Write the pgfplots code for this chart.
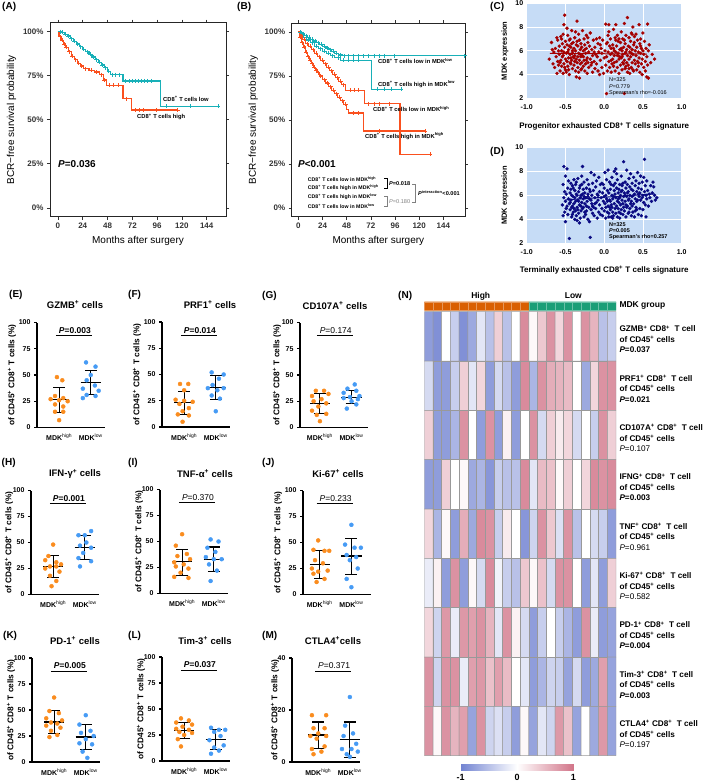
\documentclass[border=0pt]{standalone}
\usepackage{fontspec}
\setmainfont{Liberation Sans}
\usepackage{pgfplots}
\pgfplotsset{compat=1.18}
\newcommand\fs[2]{\fontsize{#1}{#2}\selectfont}
\definecolor{kmteal}{RGB}{24,176,184}
\definecolor{kmred}{RGB}{250,80,30}
\definecolor{bgblue}{RGB}{198,220,246}
\definecolor{cred}{RGB}{165,0,0}
\definecolor{dnavy}{RGB}{10,10,130}
\definecolor{dotor}{RGB}{250,140,30}
\definecolor{dotbl}{RGB}{70,155,245}
\definecolor{annor}{RGB}{217,95,2}
\definecolor{annte}{RGB}{27,158,119}
\pgfplotsset{
 /pgf/number format/assume math mode=true,
 km/.style={anchor=south west, scale only axis, ymin=-5, ymax=105,
   ytick={0,25,50,75,100}, yticklabels={0\%,25\%,50\%,75\%,100\%},
   xtick={0,24,48,72,96,120,144}, tick align=outside, major tick length=3pt,
   axis line style={black!85, line width=0.9pt}, tick style={black!80, line width=0.7pt},
   tick label style={font=\fs{8}{9}\bfseries, text=black!80},
   xlabel={Months after surgery}, ylabel={BCR−free survival probability},
   label style={font=\fs{10}{11}}},
 sc/.style={anchor=south west, scale only axis, width=155pt, xmin=-1, xmax=1, ymin=2, ymax=10,
   xtick={-1,-0.5,0,0.5,1}, xticklabels={-1.0,-0.5,0.0,0.5,1.0}, ytick={2,4,6,8,10},
   grid=major, grid style={white, line width=0.9pt}, axis background/.style={fill=bgblue},
   axis line style={draw=none}, major tick length=0pt,
   tick label style={font=\fs{7}{8}\bfseries}, xticklabel style={yshift=-3pt},
   ylabel={MDK expression}, label style={font=\fs{7.5}{8}\bfseries},
   xlabel style={yshift=-6pt, font=\fs{8}{9}\bfseries}, clip=false},
 dp/.style={anchor=south west, scale only axis, width=68pt, xmin=0.3, xmax=2.45, ymin=0, ymax=100,
   axis x line=bottom, axis y line=left, axis line style={-, line width=1.1pt},
   ytick={0,25,50,75,100}, xtick={1,2},
   xticklabels={MDK\textsuperscript{\mdseries high}, MDK\textsuperscript{\mdseries low}},
   tick align=outside, major tick length=3pt, xtick style={draw=none},
   ytick style={line width=1.1pt, black},
   tick label style={font=\fs{7}{8}\bfseries},
   ylabel={of CD45\textsuperscript{+} CD8\textsuperscript{+} T cells (\%)},
   ylabel style={font=\fs{8.3}{9}\bfseries}, clip=false},
 yl/.style={ylabel style={at={(axis description cs:-#1/68,0.5)}, anchor=center}},
 msd/.style={black, line width=1.1pt, no markers},
 dor/.style={only marks, mark=*, mark size=2pt, color=dotor},
 dbl/.style={only marks, mark=*, mark size=2pt, color=dotbl},
 cens/.style={only marks, mark=+, mark size=2pt, line width=0.7pt},
 hmmap/.style={colormap={hm}{rgb255=(115,132,210) rgb255=(255,255,255) rgb255=(210,118,138)}, point meta min=-1, point meta max=1},
}
\newcommand\msdA[3]{\addplot[msd] coordinates {(0.68,#1) (1.32,#1)};\addplot[msd] coordinates {(1,#2) (1,#3)};\addplot[msd] coordinates {(0.81,#2) (1.19,#2)};\addplot[msd] coordinates {(0.81,#3) (1.19,#3)};}
\newcommand\msdB[3]{\addplot[msd] coordinates {(1.68,#1) (2.32,#1)};\addplot[msd] coordinates {(2,#2) (2,#3)};\addplot[msd] coordinates {(1.81,#2) (2.19,#2)};\addplot[msd] coordinates {(1.81,#3) (2.19,#3)};}
\newcommand\pv[3]{\node[font=\fs{8.5}{9}#3, anchor=base] at (axis cs:1.5,#2) {\textit{P}=#1};}
\newcommand\pl[1]{\draw[line width=0.8pt] (axis cs:0.9,#1) -- (axis cs:2.05,#1);}
\begin{document}
\begin{tikzpicture}
\path[use as bounding box] (0,0) rectangle (709pt,-784pt);

% ---------- A ----------
\begin{axis}[km, at={(50pt,-216.7pt)}, width=176pt, height=194pt, xmin=-7.7, xmax=162.7]
\addplot[const plot, kmteal, line width=1.2pt] coordinates {(0,100) (3,99.5) (6,98.5) (9,97.5) (12,96) (15,94.5) (18,93) (21,91.5) (24,90) (27,88.5) (30,87) (33,85.5) (36,84) (39,82.5) (42,81) (45,79.5) (48,77.5) (51,75.5) (63,72) (99,57.5) (155,57.5)};
\addplot[cens, kmteal] coordinates {(2,100) (4,99.5) (7,98.5) (10,97.5) (13,96) (16,94.5) (19,93) (22,91.5) (25,90) (28,88.5) (31,87) (34,85.5) (37,84) (40,82.5) (43,81) (46,79.5) (49,77.5) (53,75.5) (56,75.5) (59,75.5) (65,72) (69,72) (72,72) (75,72) (78,72) (81,72) (84,72) (87,72) (90,72) (105,57.5) (128,57.5) (155,57.5)};
\addplot[const plot, kmred, line width=1.2pt] coordinates {(0,100) (1,97) (3,95) (5,93) (7,91) (10,88.5) (13,86) (16,84) (19,82) (22,80.5) (25,79) (30,78) (35,77) (40,75.5) (44,72.5) (47,69.5) (63,62) (71,55.5) (116,55.5)};
\addplot[cens, kmred] coordinates {(2,97) (4,95) (6,93) (8,91) (11,88.5) (14,86) (17,84) (20,82) (23,80.5) (27,79) (32,78) (37,77) (42,75.5) (45,72.5) (50,69.5) (54,69.5) (58,69.5) (66,62) (75,55.5) (79,55.5) (83,55.5) (95,55.5) (116,55.5)};
\end{axis}

% ---------- B ----------
\begin{axis}[km, at={(291.7pt,-216.7pt)}, width=173.3pt, height=193.4pt, xmin=-6.6, xmax=165.5]
\addplot[const plot, kmteal, line width=1.2pt] coordinates {(0,100) (3,99) (6,98) (9,97) (12,96) (15,95) (18,94) (21,93) (24,92) (27,91) (30,90) (33,89) (36,88) (40,87) (44,86.5) (165,86.5)};
\addplot[cens, kmteal] coordinates {(2,100) (5,99) (8,98) (11,97) (14,96) (17,95) (20,94) (23,93) (26,92) (29,91) (32,90) (35,89) (38,88) (42,87) (46,86.5) (50,86.5) (55,86.5) (60,86.5) (65,86.5) (70,86.5) (75,86.5) (80,86.5) (85,86.5) (95,86.5) (165,86.5)};
\addplot[const plot, kmteal, line width=1.2pt] coordinates {(0,100) (2,99) (5,97) (8,95.5) (12,94) (16,92) (20,90.5) (24,89) (28,88) (32,86.5) (36,85.5) (42,84) (73,67.5) (102,67.5)};
\addplot[cens, kmteal] coordinates {(4,99) (10,95.5) (14,94) (18,92) (22,90.5) (26,89) (30,88) (34,86.5) (40,85.5) (45,84) (50,84) (55,84) (60,84) (78,67.5) (85,67.5) (92,67.5) (102,67.5)};
\addplot[const plot, kmred, line width=1.2pt] coordinates {(0,100) (2,98) (4,96) (7,93.5) (10,92) (13,90) (16,88) (19,86) (22,84) (25,82) (28,80) (31,78) (34,76) (37,74) (40,72) (43,70) (47,67) (66,59.3) (101,30.5) (131,30.5)};
\addplot[cens, kmred] coordinates {(3,98) (6,96) (9,93.5) (12,92) (15,90) (18,88) (21,86) (24,84) (27,82) (30,80) (33,78) (36,76) (39,74) (42,72) (45,70) (52,67) (56,67) (60,67) (70,59.3) (75,59.3) (80,59.3) (90,59.3) (131,30.5)};
\addplot[const plot, kmred, line width=1.2pt] coordinates {(0,100) (1,97) (3,94) (5,91.5) (7,88.5) (9,86) (11,84) (13,82) (15,80) (17,78.5) (19,77) (21,75) (24,73) (27,71) (30,69) (33,67) (36,65) (39,63) (42,61) (45,59) (48,56) (50,54) (65,43.8) (126,43.8)};
\addplot[cens, kmred] coordinates {(2,97) (4,94) (6,91.5) (8,88.5) (10,86) (12,84) (14,82) (16,80) (18,78.5) (20,77) (22,75) (26,73) (29,71) (32,69) (35,67) (38,65) (41,63) (44,61) (47,59) (55,54) (60,54) (80,43.8) (126,43.8)};
\end{axis}

% ---------- C ----------
\begin{axis}[sc, at={(526.7pt,-98.3pt)}, height=95pt, xlabel={Progenitor exhausted CD8\textsuperscript{+} T cells signature}]
\addplot[only marks, mark=*, mark size=1.5pt, cred] coordinates {
(-0.71,5.3) (-0.68,6.7) (-0.66,4.9) (-0.65,5.9) (-0.64,4.6) (-0.63,6.2) (-0.62,5.5) (-0.61,4.1) (-0.6,6.9) (-0.6,5.1) (-0.61,7.1) (-0.67,6.1)
(-0.59,4.8) (-0.58,6.4) (-0.58,5.7) (-0.57,4.3) (-0.56,7.2) (-0.56,5.2) (-0.55,6.0) (-0.55,4.7) (-0.54,6.6) (-0.54,5.5) (-0.53,4.1) (-0.53,7.4) (-0.52,5.9) (-0.52,4.9) (-0.51,6.3) (-0.51,9.0) (-0.5,5.3) (-0.5,4.4) (-0.5,6.8) (-0.52,8.2) (-0.57,5.0) (-0.59,6.0) (-0.55,7.0) (-0.53,5.6) (-0.51,4.6)
(-0.49,5.8) (-0.49,4.2) (-0.48,6.5) (-0.48,5.1) (-0.47,7.3) (-0.47,4.7) (-0.46,6.1) (-0.46,5.4) (-0.45,4.0) (-0.45,6.9) (-0.44,5.7) (-0.44,7.0) (-0.43,4.9) (-0.43,6.3) (-0.42,5.2) (-0.42,7.7) (-0.41,4.5) (-0.41,6.0) (-0.4,5.5) (-0.4,6.7) (-0.48,7.9) (-0.46,4.4) (-0.44,5.0) (-0.42,6.6) (-0.41,5.8) (-0.47,5.9) (-0.45,6.4) (-0.43,5.4)
(-0.39,4.8) (-0.39,6.2) (-0.38,5.6) (-0.38,7.1) (-0.37,4.3) (-0.37,6.0) (-0.36,5.3) (-0.36,3.8) (-0.35,6.8) (-0.35,8.5) (-0.35,5.0) (-0.34,6.4) (-0.34,4.6) (-0.33,5.8) (-0.33,7.4) (-0.32,5.2) (-0.32,3.7) (-0.31,6.1) (-0.31,4.9) (-0.3,5.5) (-0.3,6.6) (-0.3,4.4) (-0.38,5.1) (-0.36,6.5) (-0.34,5.5) (-0.32,6.9) (-0.31,5.7) (-0.33,4.2) (-0.37,7.6) (-0.39,5.4)
(-0.29,5.0) (-0.29,6.3) (-0.28,7.7) (-0.28,5.6) (-0.27,4.7) (-0.27,6.0) (-0.26,5.2) (-0.26,7.0) (-0.25,4.3) (-0.25,6.5) (-0.24,5.8) (-0.24,4.9) (-0.23,6.2) (-0.23,7.3) (-0.22,5.4) (-0.22,4.1) (-0.21,6.7) (-0.21,5.0) (-0.2,5.9) (-0.2,4.6) (-0.27,5.5) (-0.25,6.1) (-0.23,5.2) (-0.21,7.1) (-0.29,4.5)
(-0.19,6.4) (-0.18,5.3) (-0.18,7.5) (-0.17,4.8) (-0.16,6.1) (-0.15,5.6) (-0.15,4.2) (-0.14,6.9) (-0.13,5.1) (-0.12,6.3) (-0.12,4.5) (-0.11,5.7) (-0.1,7.0) (-0.1,4.9) (-0.16,5.0) (-0.13,5.9)
(-0.09,5.5) (-0.08,6.6) (-0.08,4.3) (-0.07,5.9) (-0.06,4.0) (-0.06,7.1) (-0.05,5.2) (-0.04,6.2) (-0.03,4.6) (-0.03,5.8) (-0.02,6.9) (-0.01,4.1) (0.0,5.4) (-0.05,6.5)
(0.01,6.0) (0.02,4.8) (0.02,8.25) (0.03,2.4) (0.03,5.5) (0.04,6.7) (0.04,4.3) (0.05,7.3) (0.05,5.9) (0.06,5.1) (0.06,8.2) (0.07,6.4) (0.07,4.6) (0.08,5.7) (0.08,7.0) (0.09,5.2) (0.09,6.2) (0.1,4.9) (0.1,5.8) (0.03,6.6) (0.06,7.6) (0.09,4.2)
(0.11,6.5) (0.11,5.3) (0.12,7.8) (0.12,4.7) (0.13,6.0) (0.13,5.6) (0.14,4.3) (0.14,7.1) (0.15,5.9) (0.15,8.2) (0.16,5.1) (0.16,6.4) (0.17,4.6) (0.17,7.3) (0.18,5.8) (0.18,6.8) (0.19,5.3) (0.19,4.1) (0.2,6.1) (0.2,5.5) (0.13,5.0) (0.15,6.9) (0.17,5.6) (0.19,7.0) (0.12,6.2)
(0.21,4.8) (0.21,6.7) (0.22,5.4) (0.22,7.6) (0.23,4.4) (0.23,6.0) (0.24,5.7) (0.24,7.0) (0.25,4.9) (0.25,6.3) (0.26,5.2) (0.26,8.3) (0.27,6.6) (0.27,4.5) (0.28,5.9) (0.28,7.3) (0.29,5.0) (0.29,6.1) (0.3,8.8) (0.3,5.6) (0.3,4.2) (0.26,2.4) (0.22,6.2) (0.24,5.0) (0.26,6.9) (0.28,4.7) (0.23,5.5) (0.27,5.8)
(0.31,6.4) (0.31,4.8) (0.32,7.1) (0.32,5.3) (0.33,5.9) (0.33,4.1) (0.34,6.8) (0.34,5.5) (0.35,7.5) (0.35,4.6) (0.36,6.1) (0.36,5.0) (0.37,8.0) (0.37,5.7) (0.38,4.3) (0.38,6.5) (0.39,5.2) (0.39,7.2) (0.4,4.9) (0.4,6.0) (0.33,6.3) (0.35,5.8) (0.37,4.4) (0.39,6.7) (0.32,4.5) (0.36,7.4)
(0.41,5.6) (0.41,7.4) (0.42,4.4) (0.42,6.3) (0.43,5.1) (0.43,6.9) (0.44,4.7) (0.44,5.9) (0.45,8.2) (0.45,5.4) (0.46,6.6) (0.46,4.2) (0.47,5.8) (0.47,7.0) (0.48,4.9) (0.48,6.2) (0.49,5.3) (0.49,4.0) (0.5,6.0) (0.5,7.5) (0.44,5.0) (0.47,6.4)
(0.51,4.6) (0.51,5.7) (0.52,6.8) (0.53,5.1) (0.53,4.3) (0.54,6.2) (0.55,3.8) (0.55,5.5) (0.56,8.25) (0.56,4.8) (0.57,3.7) (0.58,6.5) (0.6,5.0) (0.62,5.7) (0.65,5.3) (0.57,6.0)};
\addplot[cred, line width=1pt] coordinates {(-0.7,5.78) (0.55,5.73)};
\end{axis}

% ---------- D ----------
\begin{axis}[sc, at={(526.7pt,-243.3pt)}, height=96pt, xlabel={Terminally exhausted CD8\textsuperscript{+} T cells signature}, xlabel style={yshift=2pt}]
\addplot[only marks, mark=*, mark size=1.5pt, dnavy] coordinates {
(-0.54,5.2) (-0.53,6.9) (-0.53,4.3) (-0.52,8.4) (-0.52,5.8) (-0.51,4.6) (-0.51,6.3) (-0.5,3.8) (-0.5,5.5) (-0.5,7.6) (-0.49,4.9) (-0.49,6.1) (-0.48,8.2) (-0.48,5.1) (-0.47,6.6) (-0.47,4.4) (-0.46,5.7) (-0.46,7.2) (-0.45,2.4) (-0.45,5.3)
(-0.44,6.2) (-0.44,4.8) (-0.43,5.6) (-0.43,7.0) (-0.42,4.2) (-0.42,6.0) (-0.41,5.1) (-0.41,6.8) (-0.4,4.6) (-0.4,5.9) (-0.39,7.3) (-0.39,5.3) (-0.38,4.0) (-0.38,6.4) (-0.37,5.5) (-0.37,4.7) (-0.36,6.1) (-0.36,7.1) (-0.35,5.0) (-0.35,3.9) (-0.44,5.4) (-0.42,5.0) (-0.4,6.6) (-0.38,5.8) (-0.36,4.3) (-0.41,4.4) (-0.43,6.5) (-0.39,4.9) (-0.37,6.9) (-0.35,6.0)
(-0.34,5.6) (-0.34,7.4) (-0.33,4.5) (-0.33,6.3) (-0.32,5.2) (-0.32,3.7) (-0.31,6.8) (-0.31,5.8) (-0.3,4.7) (-0.3,6.0) (-0.29,7.6) (-0.29,5.4) (-0.28,8.4) (-0.28,4.9) (-0.27,6.5) (-0.27,5.7) (-0.26,4.2) (-0.26,7.1) (-0.25,5.3) (-0.25,6.2) (-0.33,5.5) (-0.31,4.1) (-0.29,6.9) (-0.27,5.0) (-0.25,4.6) (-0.32,6.6) (-0.3,5.1) (-0.28,6.1) (-0.26,5.9) (-0.34,4.8)
(-0.24,5.8) (-0.24,4.4) (-0.23,6.6) (-0.23,5.1) (-0.22,7.3) (-0.22,5.5) (-0.21,4.0) (-0.21,6.1) (-0.2,5.0) (-0.2,6.9) (-0.19,3.8) (-0.19,5.7) (-0.18,2.5) (-0.18,6.3) (-0.17,4.8) (-0.17,7.9) (-0.16,5.3) (-0.16,6.0) (-0.15,4.5) (-0.15,7.0) (-0.23,4.7) (-0.21,5.9) (-0.19,6.5) (-0.17,5.6) (-0.15,5.1)
(-0.14,6.4) (-0.14,5.0) (-0.13,7.7) (-0.13,4.3) (-0.12,5.8) (-0.11,6.7) (-0.11,4.9) (-0.1,5.4) (-0.1,7.2) (-0.09,4.1) (-0.09,6.1) (-0.08,5.6) (-0.07,7.5) (-0.07,4.6) (-0.06,6.3) (-0.06,5.2) (-0.05,6.9) (-0.05,4.4) (-0.12,5.3) (-0.08,6.0)
(-0.04,5.8) (-0.03,4.9) (-0.03,7.0) (-0.02,6.2) (-0.02,4.3) (-0.01,5.5) (0.0,6.6) (0.0,4.7) (0.01,7.9) (0.01,5.3) (0.02,6.0) (0.02,4.1) (0.03,5.7) (0.03,7.3) (0.04,4.6) (0.04,6.4) (0.05,5.1) (0.05,8.1) (-0.01,6.9) (0.0,5.9) (0.02,5.0) (0.04,5.5)
(0.06,6.2) (0.06,4.2) (0.07,5.6) (0.07,7.1) (0.08,4.8) (0.08,6.5) (0.09,5.2) (0.09,4.2) (0.1,6.0) (0.1,7.5) (0.11,4.6) (0.11,5.7) (0.12,6.8) (0.12,4.3) (0.13,5.3) (0.13,8.0) (0.14,6.1) (0.14,4.9) (0.15,5.8) (0.15,8.2) (0.07,5.0) (0.09,6.9) (0.11,4.1) (0.13,6.4) (0.15,4.5) (0.08,5.5) (0.1,5.0) (0.12,5.9) (0.14,7.0) (0.06,4.5)
(0.16,6.6) (0.16,5.1) (0.17,4.2) (0.17,7.3) (0.18,5.7) (0.18,6.2) (0.19,4.6) (0.19,5.4) (0.2,6.9) (0.2,4.1) (0.21,6.0) (0.21,5.2) (0.22,7.6) (0.22,4.8) (0.23,6.4) (0.23,5.6) (0.24,4.4) (0.24,7.0) (0.25,8.8) (0.25,5.9) (0.17,5.5) (0.19,6.5) (0.21,4.5) (0.23,6.8) (0.25,5.0) (0.18,4.9) (0.2,5.8) (0.22,6.3) (0.24,5.3) (0.16,7.8)
(0.26,6.2) (0.26,4.7) (0.27,7.1) (0.27,5.5) (0.28,4.2) (0.28,6.6) (0.29,5.9) (0.29,8.1) (0.3,5.1) (0.3,6.9) (0.31,4.5) (0.31,6.3) (0.32,5.7) (0.32,7.4) (0.33,4.9) (0.33,6.0) (0.34,5.3) (0.34,7.8) (0.35,6.5) (0.35,4.3) (0.27,6.0) (0.29,5.0) (0.31,5.6) (0.33,6.7) (0.35,5.5) (0.28,5.2) (0.3,6.2) (0.32,4.6)
(0.36,5.9) (0.36,7.0) (0.37,4.6) (0.37,6.4) (0.38,5.3) (0.38,7.5) (0.39,4.2) (0.39,6.1) (0.4,5.7) (0.4,6.8) (0.41,5.0) (0.41,7.2) (0.42,6.3) (0.42,4.8) (0.43,5.6) (0.43,7.9) (0.44,6.6) (0.44,4.4) (0.45,5.9) (0.45,7.0) (0.38,6.0) (0.4,4.7) (0.42,5.5) (0.44,6.1) (0.36,5.1)
(0.46,6.2) (0.46,4.9) (0.47,7.6) (0.47,5.6) (0.48,6.5) (0.48,4.3) (0.49,5.8) (0.49,7.1) (0.5,6.0) (0.5,4.8) (0.51,5.4) (0.51,7.5) (0.52,9.0) (0.52,6.3) (0.53,5.2) (0.53,6.8) (0.54,4.2) (0.54,6.0) (0.55,5.7) (0.55,7.2)
(0.56,6.4) (0.57,5.1) (0.58,6.1) (0.59,5.8) (0.6,6.8) (0.61,5.5) (0.62,6.2) (0.64,6.7) (0.65,6.0) (0.66,5.6) (0.68,5.8) (0.63,7.1)};
\addplot[dnavy, line width=1pt] coordinates {(-0.5,5.62) (0.65,6.12)};
\end{axis}

% ---------- E ----------
\begin{axis}[dp, yl=25, at={(37pt,-427.5pt)}, height=105pt]
\addplot[dor] coordinates {(0.93,48) (1.1,45) (0.87,30) (1.13,28) (0.73,27) (1.0,26) (1.27,25) (0.87,22) (1.13,20) (0.87,15) (1.13,15) (1.0,7)};
\addplot[dbl] coordinates {(1.85,62) (2.15,58) (2.0,50) (1.87,45) (2.13,40) (1.75,37) (2.25,35) (1.87,31) (2.15,30) (1.75,28)};
\msdA{26.3}{14.7}{37.8}\msdB{42.7}{31.5}{54.5}
\pv{0.003}{89.5}{\bfseries}\pl{87.5}
\end{axis}
% ---------- F ----------
\begin{axis}[dp, yl=25, at={(162pt,-427pt)}, height=105pt]
\addplot[dor] coordinates {(0.87,41) (1.13,41) (1.0,35) (0.73,26) (1.0,25) (1.27,24) (0.85,22) (1.15,18) (0.95,15) (0.8,12) (1.15,11) (0.95,5)};
\addplot[dbl] coordinates {(1.87,52) (2.25,50) (2.1,46) (1.9,40) (1.75,37) (2.25,37) (2.05,35) (1.87,30) (2.13,27) (2.0,15)};
\msdA{23}{12}{34}\msdB{37.3}{26}{49}
\pv{0.014}{89.5}{\bfseries}\pl{87.5}
\end{axis}
% ---------- G ----------
\begin{axis}[dp, yl=23, at={(300pt,-427.5pt)}, height=105pt, xmin=0.37, xmax=2.52]
\addplot[dor] coordinates {(0.87,35) (1.13,35) (1.27,32) (0.75,30) (1.05,27) (0.8,25) (1.2,23) (0.95,20) (0.75,16) (1.2,13) (0.9,12) (1.0,6)};
\addplot[dbl] coordinates {(2.1,41) (1.87,37) (2.15,35) (1.75,33) (2.25,30) (1.95,29) (1.75,28) (2.2,27) (2.0,25) (2.15,22) (1.85,18)};
\msdA{22.7}{13}{32.6}\msdB{29}{23}{35}
\pv{0.174}{89.5}{\mdseries}\pl{87.5}
\end{axis}
% ---------- H ----------
\begin{axis}[dp, yl=22, at={(31pt,-594.5pt)}, height=104pt]
\addplot[dor] coordinates {(1.0,48) (0.85,37) (0.75,33) (1.1,31) (1.25,29) (0.9,27) (1.1,27) (0.75,25) (1.2,22) (0.9,18) (1.1,13) (0.95,8)};
\addplot[dbl] coordinates {(2.2,61) (1.8,57) (2.0,57) (2.05,50) (1.85,47) (2.2,45) (1.95,40) (1.8,35) (2.2,32) (1.85,27)};
\msdA{27}{16.5}{37.5}\msdB{45}{34}{56.5}
\pv{0.001}{89.5}{\bfseries}\pl{87.5}
\end{axis}
% ---------- I ----------
\begin{axis}[dp, yl=21, at={(160pt,-593.5pt)}, height=104pt]
\addplot[dor] coordinates {(1.0,57) (0.8,46) (1.15,38) (0.85,36) (1.25,33) (0.75,30) (1.05,28) (0.8,26) (1.2,24) (0.95,20) (0.75,16) (1.2,15)};
\addplot[dbl] coordinates {(1.9,52) (2.15,50) (1.8,44) (2.05,40) (1.75,35) (2.0,33) (2.25,33) (1.85,28) (2.1,22) (1.9,12)};
\msdA{30.4}{17.6}{42.5}\msdB{33}{21.4}{44.7}
\pv{0.370}{89.5}{\mdseries}\pl{87.5}
\end{axis}
% ---------- J ----------
\begin{axis}[dp, yl=25, at={(303pt,-594.5pt)}, height=104pt, xmin=0.47, xmax=2.62]
\addplot[dor] coordinates {(0.95,52) (0.8,43) (1.15,42) (1.3,42) (0.85,33) (1.1,30) (0.75,25) (1.25,23) (0.95,22) (0.8,20) (1.15,15) (0.9,12)};
\addplot[dbl] coordinates {(2.0,67) (1.8,48) (2.1,45) (2.3,45) (1.85,38) (2.15,36) (1.95,33) (2.2,25) (1.85,15) (2.0,7)};
\msdA{29}{15.4}{42}\msdB{37}{19}{54}
\pv{0.233}{89.5}{\mdseries}\pl{87.5}
\end{axis}
% ---------- K ----------
\begin{axis}[dp, yl=21, at={(32pt,-762pt)}, height=104pt]
\addplot[dor] coordinates {(1.0,62) (0.85,49) (1.15,47) (0.75,42) (1.25,40) (0.9,38) (1.1,37) (0.75,35) (1.2,33) (0.9,30) (1.1,26) (0.85,24)};
\addplot[dbl] coordinates {(2.0,45) (1.8,36) (2.15,30) (1.85,28) (2.25,25) (2.0,22) (1.8,18) (2.2,17) (1.9,10) (2.05,4)};
\msdA{38.5}{27.7}{49.5}\msdB{24}{12}{36}
\pv{0.005}{89.5}{\bfseries}\pl{87.5}
\end{axis}
% ---------- L ----------
\begin{axis}[dp, yl=21, at={(162pt,-761pt)}, height=104pt]
\addplot[dor] coordinates {(0.9,41) (1.15,39) (0.75,37) (1.25,35) (0.95,33) (0.75,31) (1.15,30) (0.85,28) (1.25,27) (1.0,25) (0.8,21) (0.9,14)};
\addplot[dbl] coordinates {(1.85,32) (2.1,30) (2.3,30) (1.95,28) (2.15,24) (1.8,20) (2.25,15) (1.95,13) (2.1,10) (1.85,7)};
\msdA{29.6}{22}{37}\msdB{21}{11.5}{30}
\pv{0.037}{89.5}{\bfseries}\pl{87.5}
\end{axis}
% ---------- M ----------
\begin{axis}[dp, yl=17, at={(292pt,-762pt)}, height=104pt, ymax=40, ytick={0,20,40}, xmin=0.17, xmax=2.32]
\addplot[dor] coordinates {(0.8,18) (1.25,18) (0.85,13) (1.2,13) (1.0,11) (0.75,10) (1.25,10) (0.95,9) (1.2,6) (0.8,5) (1.1,4) (0.85,3)};
\addplot[dbl] coordinates {(2.0,25) (1.85,14) (2.1,11) (1.8,10) (2.2,7) (1.75,5) (2.05,5) (2.25,4) (1.9,3) (2.0,2)};
\msdA{10.4}{5.2}{15.4}\msdB{8.6}{1.9}{15.4}
\pv{0.371}{35.8}{\mdseries}\pl{35}
\end{axis}

% ---------- N heatmap ----------
\begin{axis}[hmmap, at={(424.3pt,-755.7pt)}, anchor=south west, scale only axis, width=191.7pt, height=444pt,
  xmin=0.5, xmax=22.5, ymin=0.5, ymax=9.5, y dir=reverse, hide axis]
\addplot[matrix plot*, mesh/cols=22, point meta=explicit, draw=black!40, line width=0.5pt] coordinates {
(1,1) [-0.8] (2,1) [-0.9] (3,1) [0] (4,1) [-0.4] (5,1) [-0.9] (6,1) [-0.7] (7,1) [-0.2] (8,1) [-0.5] (9,1) [0.35] (10,1) [-0.5] (11,1) [0] (12,1) [0.85] (13,1) [0.05] (14,1) [0.4] (15,1) [0.8] (16,1) [0.3] (17,1) [0.8] (18,1) [0] (19,1) [0.8] (20,1) [0.55] (21,1) [-0.5] (22,1) [-0.4]
(1,2) [-0.3] (2,2) [-0.8] (3,2) [-0.8] (4,2) [-0.4] (5,2) [0.35] (6,2) [-0.2] (7,2) [0.3] (8,2) [-0.8] (9,2) [-0.3] (10,2) [-0.5] (11,2) [-0.8] (12,2) [0.85] (13,2) [-0.6] (14,2) [0.8] (15,2) [0.6] (16,2) [0.55] (17,2) [0.5] (18,2) [0] (19,2) [-0.7] (20,2) [0.3] (21,2) [0.8] (22,2) [0.8]
(1,3) [0.35] (2,3) [-0.8] (3,3) [-0.8] (4,3) [-0.6] (5,3) [0.8] (6,3) [0] (7,3) [-0.8] (8,3) [0.8] (9,3) [-0.8] (10,3) [0.1] (11,3) [-0.8] (12,3) [0] (13,3) [0.8] (14,3) [-0.3] (15,3) [0.35] (16,3) [0.15] (17,3) [0.3] (18,3) [-0.3] (19,3) [0] (20,3) [-0.4] (21,3) [0.8] (22,3) [0.35]
(1,4) [-0.8] (2,4) [-0.8] (3,4) [0.35] (4,4) [0] (5,4) [0.05] (6,4) [-0.7] (7,4) [-0.6] (8,4) [-0.85] (9,4) [-0.4] (10,4) [-0.5] (11,4) [-0.5] (12,4) [0.85] (13,4) [-0.2] (14,4) [0.5] (15,4) [0.45] (16,4) [0.05] (17,4) [0.35] (18,4) [0] (19,4) [0.3] (20,4) [0.85] (21,4) [0.8] (22,4) [0.85]
(1,5) [0.3] (2,5) [-0.6] (3,5) [0.05] (4,5) [-0.8] (5,5) [0.6] (6,5) [-0.7] (7,5) [0.85] (8,5) [0.8] (9,5) [-0.4] (10,5) [0.15] (11,5) [0] (12,5) [-0.85] (13,5) [-0.35] (14,5) [0.8] (15,5) [0.4] (16,5) [-0.25] (17,5) [0.8] (18,5) [-0.5] (19,5) [0] (20,5) [-0.3] (21,5) [-0.4] (22,5) [-0.8]
(1,6) [-0.15] (2,6) [0.1] (3,6) [-0.8] (4,6) [0.8] (5,6) [-0.8] (6,6) [0.05] (7,6) [-0.3] (8,6) [0.85] (9,6) [-0.1] (10,6) [-0.4] (11,6) [-0.5] (12,6) [0.4] (13,6) [0.05] (14,6) [0.45] (15,6) [-0.3] (16,6) [0.8] (17,6) [0.8] (18,6) [0] (19,6) [-0.8] (20,6) [-0.2] (21,6) [-0.8] (22,6) [0.35]
(1,7) [0.3] (2,7) [-0.35] (3,7) [0.75] (4,7) [-0.15] (5,7) [0.75] (6,7) [0.7] (7,7) [0.8] (8,7) [0.55] (9,7) [-0.2] (10,7) [0.8] (11,7) [0.1] (12,7) [-0.3] (13,7) [-0.8] (14,7) [-0.4] (15,7) [0] (16,7) [-0.4] (17,7) [-0.6] (18,7) [-0.8] (19,7) [0.8] (20,7) [-0.15] (21,7) [-0.8] (22,7) [-0.75]
(1,8) [0.8] (2,8) [-0.35] (3,8) [0.8] (4,8) [0.8] (5,8) [-0.15] (6,8) [0.7] (7,8) [0.75] (8,8) [0.45] (9,8) [0.7] (10,8) [0.5] (11,8) [0] (12,8) [-0.2] (13,8) [-0.8] (14,8) [-0.6] (15,8) [-0.35] (16,8) [-0.4] (17,8) [-0.75] (18,8) [-0.3] (19,8) [-0.8] (20,8) [-0.7] (21,8) [0.7] (22,8) [-0.75]
(1,9) [0.8] (2,9) [0.05] (3,9) [0.8] (4,9) [0.55] (5,9) [0.7] (6,9) [-0.75] (7,9) [0.8] (8,9) [-0.35] (9,9) [-0.25] (10,9) [-0.4] (11,9) [-0.8] (12,9) [0.05] (13,9) [-0.75] (14,9) [-0.2] (15,9) [-0.35] (16,9) [0.75] (17,9) [0.45] (18,9) [-0.75] (19,9) [0] (20,9) [-0.7] (21,9) [0.75] (22,9) [-0.75]};
\end{axis}

% annotation bar
\begin{axis}[at={(424.3pt,-310pt)}, anchor=south west, scale only axis, width=191.7pt, height=8.3pt,
  xmin=0.5, xmax=22.5, ymin=0, ymax=1, hide axis]
\addplot[ybar interval, fill=annor, draw=white!35!annor, line width=0.4pt] coordinates {(0.5,1) (1.5,1) (2.5,1) (3.5,1) (4.5,1) (5.5,1) (6.5,1) (7.5,1) (8.5,1) (9.5,1) (10.5,1) (11.5,1) (12.5,1)};
\addplot[ybar interval, fill=annte, draw=white!35!annte, line width=0.4pt] coordinates {(12.5,1) (13.5,1) (14.5,1) (15.5,1) (16.5,1) (17.5,1) (18.5,1) (19.5,1) (20.5,1) (21.5,1) (22.5,1)};
\end{axis}

% colour bar
\begin{axis}[hmmap, at={(460.7pt,-770.7pt)}, anchor=south west, scale only axis, width=112.6pt, height=6.7pt,
  xmin=-1, xmax=1, ymin=0, ymax=1, axis line style={draw=none}, xtick={-1,0,1}, xticklabels={-1,0,1},
  ytick=\empty, major tick length=0pt, tick label style={font=\fs{9}{10}\bfseries}]
\addplot[patch, patch type=rectangle, shader=interp, point meta=x] coordinates {(-1,0) (0,0) (0,1) (-1,1) (0,0) (1,0) (1,1) (0,1)};
\end{axis}

% ---------- texts ----------
\begin{scope}[every node/.style={inner sep=0pt}]
\foreach \t/\x/\y in {(A)/2/7,(B)/237/7,(C)/490/7,(D)/490/151.7,(E)/9/295,(F)/128/295,(G)/262/296,(H)/1.5/462.7,(I)/128/462.7,(J)/262/462.7,(K)/3/636,(L)/128/636,(M)/262/636,(N)/398/296}
  \node[anchor=west, font=\fs{10}{11}\bfseries] at (\x pt,-\y pt) {\t};
% A
\node[anchor=west, font=\fs{5.8}{7}\bfseries] at (163pt,-99pt) {CD8\textsuperscript{+} T cells low};
\node[anchor=west, font=\fs{5.8}{7}\bfseries] at (137pt,-117pt) {CD8\textsuperscript{+} T cells high};
\node[anchor=west, font=\fs{10}{11}\bfseries] at (58pt,-164pt) {\textit{P}=0.036};
% B
\node[anchor=west, font=\fs{5.8}{7}\bfseries] at (378pt,-61pt) {CD8\textsuperscript{+} T cells low in MDK\textsuperscript{low}};
\node[anchor=west, font=\fs{5.8}{7}\bfseries] at (378pt,-84pt) {CD8\textsuperscript{+} T cells high in MDK\textsuperscript{low}};
\node[anchor=west, font=\fs{5.8}{7}\bfseries] at (373pt,-109pt) {CD8\textsuperscript{+} T cells low in MDK\textsuperscript{high}};
\node[anchor=west, font=\fs{5.8}{7}\bfseries] at (365pt,-136pt) {CD8\textsuperscript{+} T cells high in MDK\textsuperscript{high}};
\node[anchor=west, font=\fs{10}{11}\bfseries] at (298pt,-164pt) {\textit{P}<0.001};
\node[anchor=west, font=\fs{5.2}{6}\bfseries] at (307.7pt,-179pt) {CD8\textsuperscript{+} T cells low in MDK\textsuperscript{high}};
\node[anchor=west, font=\fs{5.2}{6}\bfseries] at (307.7pt,-188pt) {CD8\textsuperscript{+} T cells high in MDK\textsuperscript{high}};
\node[anchor=west, font=\fs{5.2}{6}\bfseries] at (307.7pt,-197pt) {CD8\textsuperscript{+} T cells high in MDK\textsuperscript{low}};
\node[anchor=west, font=\fs{5.2}{6}\bfseries] at (307.7pt,-206pt) {CD8\textsuperscript{+} T cells low in MDK\textsuperscript{low}};
\draw[line width=0.5pt] (384pt,-178.5pt) -- (387pt,-178.5pt) -- (387pt,-188.5pt) -- (384pt,-188.5pt);
\draw[line width=0.5pt, gray] (384pt,-196.5pt) -- (387pt,-196.5pt) -- (387pt,-206.5pt) -- (384pt,-206.5pt);
\node[anchor=west, font=\fs{5.6}{6}\bfseries] at (389pt,-184pt) {\textit{P}=0.018};
\node[anchor=west, font=\fs{5.6}{6}, text=gray] at (389pt,-202pt) {\textit{P}=0.180};
\draw[line width=0.5pt, gray] (412pt,-184pt) -- (415pt,-184pt) -- (415pt,-202pt) -- (412pt,-202pt);
\node[anchor=west, font=\fs{5.6}{6}\bfseries] at (418pt,-193pt) {\textit{P}\textsuperscript{interaction}<0.001};
% C, D
\node[anchor=west, font=\fs{5.5}{6}] at (609pt,-80pt) {N=325};
\node[anchor=west, font=\fs{5.5}{6}] at (609pt,-86.5pt) {\textit{P}=0.779};
\node[anchor=west, font=\fs{5.5}{6}] at (609pt,-93pt) {Spearman's rho=-0.016};
\node[anchor=west, font=\fs{5.5}{6}\bfseries] at (609pt,-224.3pt) {N=325};
\node[anchor=west, font=\fs{5.5}{6}\bfseries] at (609pt,-230.8pt) {\textit{P}=0.005};
\node[anchor=west, font=\fs{5.5}{6}\bfseries] at (609pt,-237.3pt) {Spearman's rho=0.257};
% dot titles
\foreach \t/\x/\y in {GZMB/75/305,PRF1/210/305,CD107A/335/306,IFN-γ/75/474,TNF-α/205/474,Ki-67/338/474,PD-1/75/640.7,Tim-3/205/640.7}
  \node[font=\fs{9.5}{10}\bfseries] at (\x pt,-\y pt) {\t\textsuperscript{+} cells};
\node[font=\fs{9.5}{10}\bfseries] at (333pt,-640.7pt) {CTLA4\textsuperscript{+}cells};
% N labels
\node[font=\fs{8.5}{9}\bfseries] at (480.7pt,-296pt) {High};
\node[font=\fs{8.5}{9}\bfseries] at (573.3pt,-296pt) {Low};
\node[anchor=west, font=\fs{8.5}{9}\bfseries] at (619.3pt,-305pt) {MDK group};
\foreach \n/\yc/\p/\w in {GZMB/336.4/0.037/\bfseries, PRF1/385.7/0.021/\bfseries, CD107A/435/0.107/\mdseries, IFNG/484.3/0.003/\bfseries, TNF/533.7/0.961/\mdseries, Ki-67/583/0.582/\mdseries, PD-1/632.3/0.004/\bfseries, Tim-3/681.6/0.003/\bfseries, CTLA4/731/0.197/\mdseries}
  \node[anchor=west, align=left, font=\fs{8.2}{10.5}\bfseries] at (619.3pt,-\yc pt-3pt) {\n\textsuperscript{+} CD8\textsuperscript{+}\ \ T cell\\of CD45\textsuperscript{+} cells\\{\w\textit{P}=\p}};
\end{scope}
\end{tikzpicture}
\end{document}
